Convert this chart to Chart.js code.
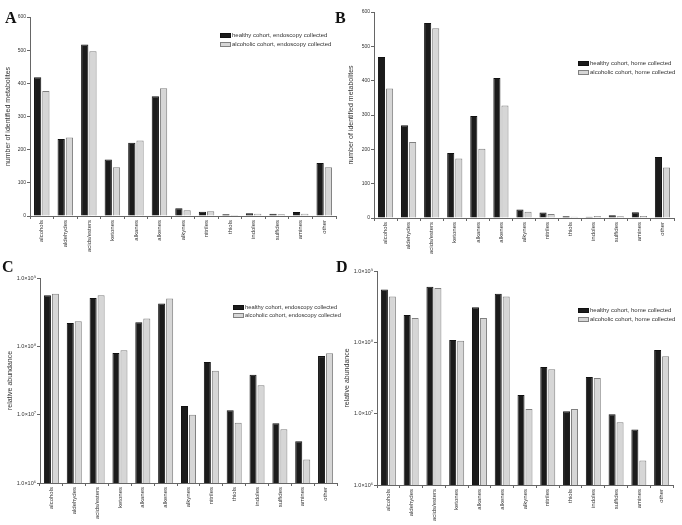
<!DOCTYPE html>
<html>
<head>
<meta charset="utf-8">
<script src="https://cdn.jsdelivr.net/npm/chart.js@4"></script>
<style>
    body { margin: 0; background: #fff; width: 682px; height: 525px; position: relative; overflow: hidden; }
    canvas { position: absolute; }
    .panel-letter { position: absolute; font: bold 16px "Liberation Serif", "Times New Roman", serif; line-height: 1; color: #111; }
</style>
</head>
<body>
<canvas id="chartA" width="341" height="262" style="left:0;top:0"></canvas>
<canvas id="chartB" width="341" height="262" style="left:341px;top:0"></canvas>
<canvas id="chartC" width="341" height="263" style="left:0;top:262px"></canvas>
<canvas id="chartD" width="341" height="263" style="left:341px;top:262px"></canvas>
<div class="panel-letter" style="left:5px;top:10px">A</div>
<div class="panel-letter" style="left:335px;top:10px">B</div>
<div class="panel-letter" style="left:2px;top:259px">C</div>
<div class="panel-letter" style="left:336px;top:259px">D</div>
<script>
// compound classes (x axis)
const classes = ['alcohols', 'aldehydes', 'acids/esters', 'ketones', 'alkanes', 'alkenes',
    'alkynes', 'nitriles', 'thiols', 'indoles', 'sulfides', 'amines', 'other'];

// A - number of identified metabolites, endoscopy collected
const countHealthyEndo = [418, 232, 517, 170, 221, 361, 23, 13, 5, 8, 7, 12, 160];
const countAlcoholicEndo = [377, 237, 497, 147, 228, 385, 17, 14, 3, 7, 5, 7, 147];

// B - number of identified metabolites, home collected
const countHealthyHome = [469, 270, 568, 189, 297, 408, 25, 16, 5, 4, 8, 17, 178];
const countAlcoholicHome = [377, 221, 553, 173, 202, 328, 18, 12, 4, 6, 5, 6, 147];

// C - relative abundance, endoscopy collected
const abundHealthyEndo = [5.6e8, 2.2e8, 5.1e8, 8.0e7, 2.25e8, 4.25e8, 1.34e7, 5.9e7, 1.16e7, 3.85e7, 7.5e6, 4.1e6, 7.2e7];
const abundAlcoholicEndo = [5.9e8, 2.33e8, 5.6e8, 8.8e7, 2.55e8, 5.0e8, 1.0e7, 4.4e7, 7.6e6, 2.7e7, 6.1e6, 2.2e6, 7.9e7];

// D - relative abundance, home collected
const abundHealthyHome = [5.5e8, 2.42e8, 6.0e8, 1.08e8, 3.1e8, 4.8e8, 1.83e7, 4.5e7, 1.08e7, 3.27e7, 9.8e6, 6.0e6, 7.8e7];
const abundAlcoholicHome = [4.4e8, 2.19e8, 5.8e8, 1.05e8, 2.19e8, 4.4e8, 1.16e7, 4.2e7, 1.16e7, 3.16e7, 7.6e6, 2.2e6, 6.4e7];

const countTicks = [0, 100, 200, 300, 400, 500, 600];
const logTicks = [1e6, 1e7, 1e8, 1e9];
const logTickLabels = ['1.0×10⁶', '1.0×10⁷', '1.0×10⁸', '1.0×10⁹'];

const FONT = '"Liberation Sans", Arial, sans-serif';
const AXIS_COLOR = '#666';
const TEXT_COLOR = '#333';

// legend drawn inside the plot area, top right
const innerLegend = {
    id: 'innerLegend',
    afterDraw(chart, args, o) {
        const ctx = chart.ctx;
        const area = chart.chartArea;
        ctx.save();
        ctx.font = o.size + 'px ' + FONT;
        ctx.textBaseline = 'middle';
        chart.data.datasets.forEach((ds, i) => {
            const x = Math.round(area.right - o.dx);
            const y = Math.round(area.top + o.dy + i * o.gap);
            ctx.fillStyle = ds.backgroundColor;
            ctx.fillRect(x, y - 2, 11, 5);
            ctx.strokeStyle = ds.borderColor;
            ctx.lineWidth = 1;
            ctx.strokeRect(x + 0.5, y - 1.5, 10, 4);
            ctx.fillStyle = TEXT_COLOR;
            ctx.fillText(ds.label, x + 12, y + 0.5);
        });
        ctx.restore();
    }
};

function makeChart(id, healthy, alcoholic, labels, cfg) {
    const ctx = document.getElementById(id).getContext('2d');
    const yScale = cfg.log ? {
        type: 'logarithmic',
        min: 1e6,
        max: 1e9,
        afterBuildTicks: function (scale) {
            scale.ticks = logTicks.map(v => ({ value: v }));
        },
        ticks: {
            color: TEXT_COLOR,
            font: { size: 5.5, family: FONT },
            padding: 1,
            callback: function (value) {
                const i = logTicks.indexOf(value);
                return i >= 0 ? logTickLabels[i] : '';
            }
        }
    } : {
        type: 'linear',
        min: 0,
        max: 600,
        afterBuildTicks: function (scale) {
            scale.ticks = countTicks.map(v => ({ value: v }));
        },
        ticks: {
            color: TEXT_COLOR,
            font: { size: 5, family: FONT },
            padding: 1
        }
    };
    Object.assign(yScale, {
        afterFit: function (scale) { scale.width = cfg.yWidth; },
        grid: { display: true, drawOnChartArea: false, drawTicks: true, tickLength: 3, color: AXIS_COLOR },
        border: { display: true, color: AXIS_COLOR, width: 1 },
        title: {
            display: true,
            text: cfg.yTitle,
            color: TEXT_COLOR,
            font: { size: 7, family: FONT },
            padding: { top: cfg.titlePad, bottom: 0 }
        }
    });

    return new Chart(ctx, {
        type: 'bar',
        data: {
            labels: classes,
            datasets: [{
                label: labels[0],
                data: healthy,
                backgroundColor: '#1b1b1b',
                borderColor: '#111',
                borderWidth: 1,
                categoryPercentage: 0.7,
                barPercentage: 0.88
            }, {
                label: labels[1],
                data: alcoholic,
                backgroundColor: '#d6d6d6',
                borderColor: '#808080',
                borderWidth: 1,
                categoryPercentage: 0.7,
                barPercentage: 0.88
            }]
        },
        options: {
            responsive: false,
            animation: false,
            devicePixelRatio: 1,
            layout: { padding: { top: cfg.top, right: cfg.right, left: 0, bottom: 0 } },
            plugins: {
                legend: { display: false },
                tooltip: { enabled: false },
                innerLegend: cfg.legend
            },
            scales: {
                x: {
                    afterFit: function (scale) { scale.height = cfg.xHeight; },
                    grid: { display: true, drawOnChartArea: false, drawTicks: true, tickLength: 3, color: AXIS_COLOR },
                    border: { display: true, color: AXIS_COLOR, width: 1 },
                    ticks: {
                        color: TEXT_COLOR,
                        font: { size: 6, family: FONT },
                        minRotation: 90,
                        maxRotation: 90,
                        autoSkip: false,
                        padding: 1
                    }
                },
                y: yScale
            }
        },
        plugins: [innerLegend]
    });
}

makeChart('chartA', countHealthyEndo, countAlcoholicEndo,
    ['healthy cohort, endoscopy collected', 'alcoholic cohort, endoscopy collected'],
    { yTitle: 'number of identified metabolites', yWidth: 30, xHeight: 46, top: 17, right: 5, titlePad: 4,
      legend: { dx: 116, dy: 18, gap: 9, size: 6 } });

makeChart('chartB', countHealthyHome, countAlcoholicHome,
    ['healthy cohort, home collected', 'alcoholic cohort, home collected'],
    { yTitle: 'number of identified metabolites', yWidth: 33, xHeight: 44, top: 12, right: 8, titlePad: 6,
      legend: { dx: 96, dy: 51, gap: 8.5, size: 6 } });

makeChart('chartC', abundHealthyEndo, abundAlcoholicEndo,
    ['healthy cohort, endoscopy collected', 'alcoholic cohort, endoscopy collected'],
    { yTitle: 'relative abundance', yWidth: 40, xHeight: 42, top: 16, right: 4, titlePad: 6, log: true,
      legend: { dx: 104, dy: 29, gap: 8, size: 5.8 } });

makeChart('chartD', abundHealthyHome, abundAlcoholicHome,
    ['healthy cohort, home collected', 'alcoholic cohort, home collected'],
    { yTitle: 'relative abundance', yWidth: 36, xHeight: 40, top: 9, right: 9, titlePad: 2, log: true,
      legend: { dx: 95, dy: 39, gap: 9, size: 6 } });
</script>
</body>
</html>
